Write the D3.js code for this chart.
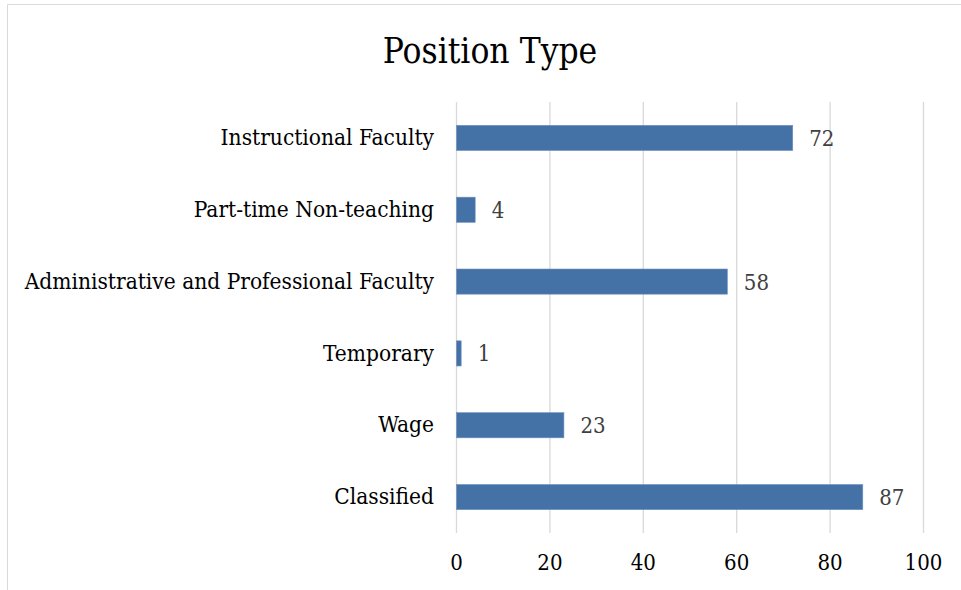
<!DOCTYPE html>
<html>
<head>
<meta charset="utf-8">
<script src="https://cdn.jsdelivr.net/npm/d3@7"></script>
<style>
  body { margin: 0; background: #fff; }
  text { font-family: "DejaVu Serif Condensed", "DejaVu Serif", serif; font-stretch: condensed; }
</style>
</head>
<body>
<div id="chart"></div>
<script>
// data
const categories = ["Instructional Faculty", "Part-time Non-teaching", "Administrative and Professional Faculty", "Temporary", "Wage", "Classified"];
const counts = [72, 4, 58, 1, 23, 87];
const xTicks = [0, 20, 40, 60, 80, 100];

const W = 961, H = 590;
const margin = {top: 102, right: 38, bottom: 57, left: 456};
const width = W - margin.left - margin.right;
const height = H - margin.top - margin.bottom;
const font = "DejaVu Serif Condensed, DejaVu Serif, serif";

const svg = d3.select("#chart").append("svg")
    .attr("width", W)
    .attr("height", H);

// outer frame (only top and left edges visible in the crop)
svg.append("line").attr("x1", 7.5).attr("x2", W).attr("y1", 4.5).attr("y2", 4.5)
    .attr("stroke", "#d9d9d9");
svg.append("line").attr("x1", 7.5).attr("x2", 7.5).attr("y1", 4.5).attr("y2", H)
    .attr("stroke", "#d9d9d9");

svg.append("text")
    .attr("x", 490).attr("y", 63)
    .attr("text-anchor", "middle")
    .style("font-size", "35px")
    .style("fill", "#000")
    .text("Position Type");

const g = svg.append("g")
    .attr("transform", "translate(" + margin.left + "," + margin.top + ")");

const x = d3.scaleLinear().domain([0, 100]).range([0, width]);
const y = d3.scaleBand().domain(categories).range([0, height]).paddingInner(0.65).paddingOuter(0.325);

// gridlines
g.selectAll(".grid")
    .data(xTicks)
    .enter().append("line")
    .attr("class", "grid")
    .attr("x1", d => x(d) + 0.5).attr("x2", d => x(d) + 0.5)
    .attr("y1", 0).attr("y2", height)
    .attr("stroke", "#d9d9d9")
    .attr("stroke-width", 1.3);

// x axis labels
const xAxis = g.append("g")
    .attr("transform", "translate(0," + height + ")")
    .call(d3.axisBottom(x).tickValues(xTicks).tickSize(0).tickPadding(21));
xAxis.select(".domain").remove();
xAxis.selectAll("text").style("font-size", "22px").style("fill", "#000").style("font-family", font);

// y axis labels
const yAxis = g.append("g")
    .call(d3.axisLeft(y).tickSize(0).tickPadding(22));
yAxis.select(".domain").remove();
yAxis.selectAll("text").style("font-size", "22.5px").style("fill", "#000").style("font-family", font);

const data = categories.map((c, i) => ({name: c, value: counts[i]}));

g.selectAll(".bar")
    .data(data)
    .enter().append("rect")
    .attr("class", "bar")
    .attr("x", x(0) + 0.5)
    .attr("y", d => y(d.name))
    .attr("width", d => x(d.value) - x(0))
    .attr("height", y.bandwidth())
    .attr("fill", "#4472a7")
    .attr("stroke", "#6d8fbe")
    .attr("stroke-width", 0.6);

g.selectAll(".val")
    .data(data)
    .enter().append("text")
    .attr("class", "val")
    .attr("x", d => x(d.value) + 17)
    .attr("y", d => y(d.name) + y.bandwidth() / 2)
    .attr("dy", "0.36em")
    .style("font-size", "22px")
    .style("fill", "#404040")
    .text(d => d.value);
</script>
</body>
</html>
